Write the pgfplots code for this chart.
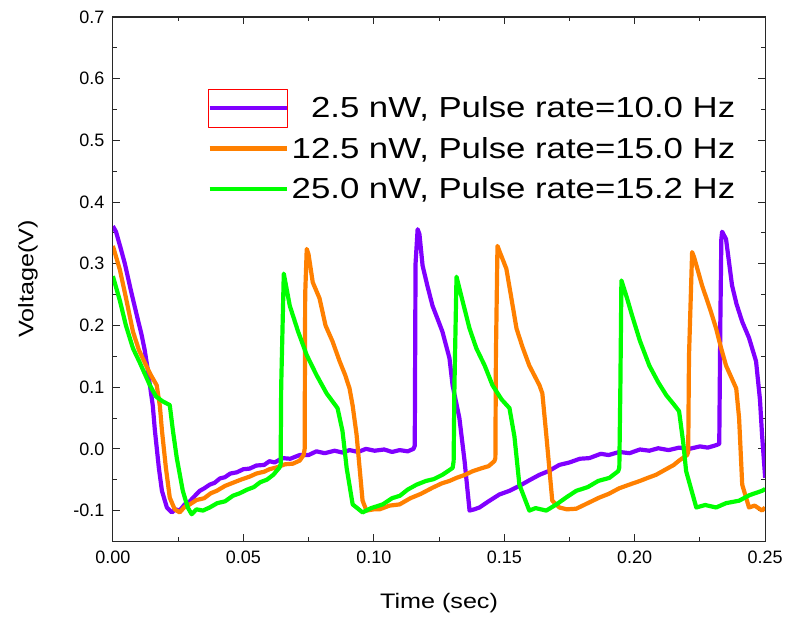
\documentclass[border=0pt]{standalone}
\usepackage{fontspec}
\setmainfont{Liberation Sans}
\newfontfamily\widefont[FakeStretch=1.2]{Liberation Sans}
\usepackage{pgfplots}
\pgfplotsset{compat=1.18}
\definecolor{cpurple}{RGB}{128,0,255}
\definecolor{corange}{RGB}{255,128,0}
\definecolor{cgreen}{RGB}{0,255,0}
\definecolor{axgray}{RGB}{40,40,40}
\begin{document}
\begin{tikzpicture}
\begin{axis}[
  scale only axis, width=653pt, height=525pt,
  xmin=0, xmax=0.25, ymin=-0.15, ymax=0.7,
  xtick={0,0.05,0.1,0.15,0.2,0.25},
  xticklabels={0.00,0.05,0.10,0.15,0.20,0.25},
  ytick={-0.1,0,0.1,0.2,0.3,0.4,0.5,0.6,0.7},
  yticklabels={-0.1,0.0,0.1,0.2,0.3,0.4,0.5,0.6,0.7},
  minor tick num=1,
  tick align=inside,
  major tick length=7pt, minor tick length=4pt,
  axis line style={axgray, line width=1.2pt},
  every tick/.style={axgray, line width=1pt},
  tick label style={font=\fontsize{18}{18}\selectfont, text=black},
  xticklabel style={yshift=-6pt},
  yticklabel style={xshift=-5pt},
  xlabel={Time (sec)}, ylabel={Voltage(V)},
  label style={font=\widefont\fontsize{21}{21}\selectfont},
  xlabel style={at={(axis description cs:0.5,-0.118)}, anchor=center},
  ylabel style={at={(axis description cs:-0.130,0.5)}, anchor=center},
  legend style={at={(rel axis cs:0.962,0.856)}, anchor=north east, draw=none, fill=none,
    font=\widefont\fontsize{29}{29}\selectfont, row sep=14pt,
    nodes={inner sep=2pt}},
  legend cell align=right,
  legend image code/.code={\draw[#1, line width=4.5pt] (0pt,0pt) -- (78pt,0pt);},
  every axis plot/.append style={line width=4.2pt, line join=round},
]
\addplot[cpurple, legend image code/.code={\draw[red, line width=0.8pt, overlay] (-1pt,-19pt) rectangle (78pt,19pt); \draw[cpurple, line width=4.5pt] (0pt,0pt) -- (78pt,0pt);}] coordinates {
(0,0.361)(0.0012,0.352)(0.0030,0.325)(0.0046,0.300)(0.0070,0.255)(0.0092,0.216)(0.0110,0.185)(0.0122,0.160)(0.0135,0.125)(0.0142,0.103)(0.0153,0.070)(0.0161,0.030)(0.0176,-0.030)(0.0188,-0.068)(0.0207,-0.095)(0.0226,-0.103)(0.0240,-0.098)(0.0256,-0.100)(0.0275,-0.090)(0.0295,-0.085)(0.0310,-0.078)(0.0333,-0.068)(0.0350,-0.064)(0.0371,-0.058)(0.0390,-0.055)(0.0410,-0.048)(0.0429,-0.046)(0.0450,-0.040)(0.0475,-0.038)(0.0500,-0.033)(0.0524,-0.032)(0.0550,-0.027)(0.0580,-0.026)(0.0600,-0.020)(0.0620,-0.022)(0.0650,-0.015)(0.0680,-0.016)(0.0716,-0.010)(0.0750,-0.010)(0.0780,-0.004)(0.0812,-0.007)(0.0850,-0.003)(0.0880,-0.006)(0.0907,-0.002)(0.0940,-0.005)(0.0970,0.000)(0.1003,-0.003)(0.1040,-0.001)(0.1070,-0.005)(0.1099,-0.002)(0.1130,-0.004)(0.1152,0.000)(0.1157,0.005)(0.1160,0.300)(0.1168,0.356)(0.1175,0.348)(0.1187,0.297)(0.1205,0.265)(0.1225,0.232)(0.1245,0.210)(0.1263,0.190)(0.1290,0.147)(0.1302,0.103)(0.1328,0.050)(0.1348,-0.020)(0.1367,-0.100)(0.1385,-0.098)(0.1405,-0.095)(0.1440,-0.085)(0.1481,-0.074)(0.1520,-0.068)(0.1558,-0.060)(0.1600,-0.050)(0.1635,-0.042)(0.1670,-0.036)(0.1711,-0.026)(0.1750,-0.022)(0.1790,-0.016)(0.1826,-0.015)(0.1870,-0.008)(0.1900,-0.010)(0.1941,-0.005)(0.1980,-0.007)(0.2020,-0.001)(0.2056,-0.003)(0.2090,0.001)(0.2130,-0.002)(0.2170,0.002)(0.2209,0.000)(0.2250,0.004)(0.2280,0.002)(0.2312,0.006)(0.2324,0.008)(0.2328,0.200)(0.2332,0.340)(0.2335,0.352)(0.2350,0.340)(0.2373,0.265)(0.2390,0.235)(0.2412,0.206)(0.2438,0.180)(0.2465,0.142)(0.2480,0.080)(0.2488,0.023)(0.2500,-0.047)
};
\addlegendentry{2.5 nW, Pulse rate=10.0 Hz}
\addplot[corange] coordinates {
(0,0.329)(0.0027,0.290)(0.0050,0.245)(0.0077,0.190)(0.0100,0.160)(0.0122,0.140)(0.0145,0.120)(0.0168,0.103)(0.0180,0.070)(0.0188,0.030)(0.0203,-0.030)(0.0218,-0.079)(0.0237,-0.098)(0.0256,-0.103)(0.0275,-0.094)(0.0295,-0.090)(0.0320,-0.083)(0.0350,-0.080)(0.0375,-0.072)(0.0398,-0.068)(0.0430,-0.060)(0.0460,-0.055)(0.0490,-0.050)(0.0524,-0.045)(0.0550,-0.040)(0.0580,-0.037)(0.0600,-0.033)(0.0628,-0.030)(0.0660,-0.025)(0.0690,-0.024)(0.0716,-0.019)(0.0731,-0.010)(0.0735,0.000)(0.0737,0.250)(0.0743,0.324)(0.0750,0.315)(0.0766,0.270)(0.0792,0.244)(0.0815,0.200)(0.0842,0.174)(0.0869,0.142)(0.0890,0.120)(0.0907,0.098)(0.0919,0.070)(0.0934,0.023)(0.0957,-0.084)(0.0972,-0.100)(0.1000,-0.098)(0.1022,-0.098)(0.1060,-0.092)(0.1099,-0.090)(0.1140,-0.080)(0.1180,-0.073)(0.1225,-0.063)(0.1260,-0.056)(0.1290,-0.052)(0.1317,-0.047)(0.1350,-0.042)(0.1380,-0.036)(0.1416,-0.031)(0.1440,-0.028)(0.1462,-0.020)(0.1466,-0.015)(0.1468,0.150)(0.1474,0.329)(0.1482,0.320)(0.1508,0.292)(0.1525,0.250)(0.1547,0.195)(0.1570,0.165)(0.1596,0.135)(0.1635,0.103)(0.1646,0.090)(0.1661,0.023)(0.1684,-0.084)(0.1711,-0.095)(0.1740,-0.098)(0.1776,-0.097)(0.1820,-0.088)(0.1864,-0.079)(0.1900,-0.073)(0.1940,-0.064)(0.1979,-0.058)(0.2020,-0.052)(0.2050,-0.047)(0.2082,-0.042)(0.2120,-0.033)(0.2150,-0.026)(0.2170,-0.019)(0.2201,-0.010)(0.2205,-0.005)(0.2208,0.150)(0.2220,0.319)(0.2228,0.310)(0.2258,0.265)(0.2290,0.225)(0.2312,0.195)(0.2330,0.165)(0.2350,0.135)(0.2389,0.098)(0.2400,0.050)(0.2412,-0.058)(0.2438,-0.095)(0.2460,-0.092)(0.2488,-0.100)(0.2500,-0.095)
};
\addlegendentry{12.5 nW, Pulse rate=15.0 Hz}
\addplot[cgreen] coordinates {
(0,0.280)(0.0027,0.240)(0.0050,0.200)(0.0077,0.163)(0.0103,0.140)(0.0142,0.103)(0.0165,0.085)(0.0191,0.077)(0.0218,0.071)(0.0230,0.030)(0.0245,-0.015)(0.0268,-0.068)(0.0287,-0.095)(0.0302,-0.106)(0.0320,-0.098)(0.0345,-0.100)(0.0371,-0.095)(0.0400,-0.088)(0.0430,-0.085)(0.0460,-0.076)(0.0486,-0.072)(0.0515,-0.066)(0.0540,-0.062)(0.0565,-0.054)(0.0590,-0.050)(0.0615,-0.042)(0.0639,-0.030)(0.0643,-0.025)(0.0645,0.100)(0.0655,0.284)(0.0678,0.232)(0.0710,0.190)(0.0743,0.152)(0.0780,0.120)(0.0819,0.090)(0.0861,0.066)(0.0880,0.029)(0.0896,-0.031)(0.0919,-0.090)(0.0957,-0.103)(0.0990,-0.096)(0.1034,-0.090)(0.1070,-0.080)(0.1100,-0.076)(0.1130,-0.066)(0.1164,-0.058)(0.1200,-0.052)(0.1230,-0.049)(0.1263,-0.042)(0.1302,-0.031)(0.1306,-0.020)(0.1309,0.100)(0.1317,0.279)(0.1340,0.240)(0.1367,0.195)(0.1393,0.163)(0.1425,0.135)(0.1455,0.103)(0.1490,0.080)(0.1520,0.066)(0.1539,0.020)(0.1558,-0.058)(0.1596,-0.100)(0.1620,-0.096)(0.1661,-0.100)(0.1700,-0.090)(0.1740,-0.078)(0.1776,-0.068)(0.1820,-0.062)(0.1860,-0.052)(0.1903,-0.047)(0.1937,-0.036)(0.1941,-0.030)(0.1945,0.100)(0.1949,0.273)(0.1970,0.245)(0.1990,0.216)(0.2020,0.175)(0.2056,0.135)(0.2090,0.108)(0.2121,0.087)(0.2150,0.072)(0.2170,0.061)(0.2186,0.010)(0.2197,-0.036)(0.2236,-0.095)(0.2270,-0.091)(0.2312,-0.095)(0.2350,-0.088)(0.2400,-0.084)(0.2440,-0.075)(0.2488,-0.068)(0.2500,-0.065)
};
\addlegendentry{25.0 nW, Pulse rate=15.2 Hz}
\end{axis}
\path (current axis.south west) ++(-113pt,-75pt) coordinate (bbA);
\path (current axis.north east) ++(20pt,17pt) coordinate (bbB);
\path (bbA) rectangle (bbB);
\end{tikzpicture}
\end{document}
